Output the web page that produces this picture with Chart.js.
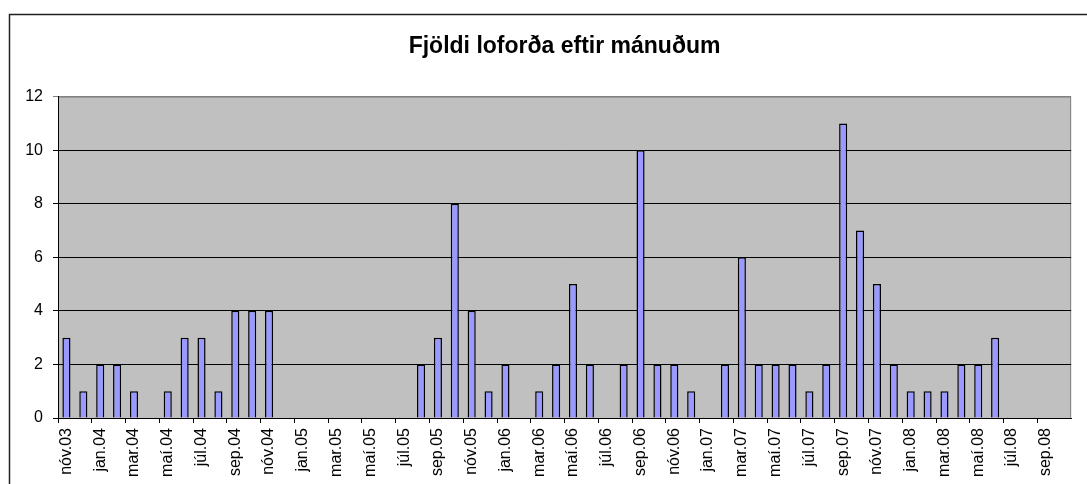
<!DOCTYPE html>
<html lang="is">
<head>
  <meta charset="UTF-8" />
  <title>Fjöldi loforða eftir mánuðum</title>
  <script src="https://cdn.jsdelivr.net/npm/chart.js"></script>
  <style>
    html, body { margin: 0; padding: 0; background: #fff; }
  </style>
</head>
<body>
  <canvas id="chart" width="1087" height="484"></canvas>

  <script>
    const title = "Fjöldi loforða eftir mánuðum";

    const months = [
      "nóv.03", "des.03",
      "jan.04", "feb.04", "mar.04", "apr.04", "maí.04", "jún.04", "júl.04", "ágú.04", "sep.04", "okt.04", "nóv.04", "des.04",
      "jan.05", "feb.05", "mar.05", "apr.05", "maí.05", "jún.05", "júl.05", "ágú.05", "sep.05", "okt.05", "nóv.05", "des.05",
      "jan.06", "feb.06", "mar.06", "apr.06", "maí.06", "jún.06", "júl.06", "ágú.06", "sep.06", "okt.06", "nóv.06", "des.06",
      "jan.07", "feb.07", "mar.07", "apr.07", "maí.07", "jún.07", "júl.07", "ágú.07", "sep.07", "okt.07", "nóv.07", "des.07",
      "jan.08", "feb.08", "mar.08", "apr.08", "maí.08", "jún.08", "júl.08", "ágú.08", "sep.08", "okt.08"
    ];

    const promises = [
      3, 1,
      2, 2, 1, 0, 1, 3, 3, 1, 4, 4, 4, 0,
      0, 0, 0, 0, 0, 0, 0, 2, 3, 8, 4, 1,
      2, 0, 1, 2, 5, 2, 0, 2, 10, 2, 2, 1,
      0, 2, 6, 2, 2, 2, 1, 2, 11, 7, 5, 2,
      1, 1, 1, 2, 2, 3, 0, 0, 0, 0
    ];

    const yTicks = [0, 2, 4, 6, 8, 10, 12];

    const fontFamily = "'Liberation Sans', Arial, sans-serif";

    // grey plot area and the outer frame, like the old spreadsheet chart
    const backdrop = {
      id: "backdrop",
      beforeDraw(chart) {
        const { ctx, chartArea: a } = chart;
        ctx.save();
        ctx.fillStyle = "#c0c0c0";
        ctx.fillRect(a.left, a.top, a.right - a.left, a.bottom - a.top);
        ctx.strokeStyle = "#808080";
        ctx.lineWidth = 1;
        ctx.strokeRect(a.left + 0.5, a.top + 0.5, a.right - a.left - 1, a.bottom - a.top);

        ctx.strokeStyle = "#222";
        ctx.lineWidth = 1.5;
        ctx.beginPath();
        ctx.moveTo(9.5, chart.height);
        ctx.lineTo(9.5, 14.5);
        ctx.lineTo(chart.width, 14.5);
        ctx.stroke();
        ctx.restore();
      }
    };

    new Chart(document.getElementById("chart"), {
      type: "bar",
      data: {
        labels: months,
        datasets: [{
          data: promises,
          backgroundColor: "#9999ff",
          borderColor: "#000",
          borderWidth: 1.5,
          borderSkipped: "bottom",
          barPercentage: 0.48,
          categoryPercentage: 1
        }]
      },
      options: {
        responsive: false,
        animation: false,
        layout: { padding: { left: 0, right: 14, top: 0, bottom: 0 } },
        plugins: {
          legend: { display: false },
          tooltip: { enabled: false },
          title: {
            display: true,
            text: title,
            fullSize: false,
            color: "#000",
            font: { family: fontFamily, size: 23, weight: "bold", lineHeight: 1.2 },
            padding: { top: 33, bottom: 36 }
          }
        },
        scales: {
          x: {
            offset: true,
            grid: {
              offset: true,
              drawOnChartArea: false,
              drawTicks: true,
              tickLength: 5,
              color: ctx => ctx.index % 2 === 0 ? "#000" : "rgba(0,0,0,0)"
            },
            border: { color: "#000", width: 1 },
            ticks: {
              autoSkip: false,
              minRotation: 90,
              maxRotation: 90,
              padding: 5,
              color: "#000",
              font: { family: fontFamily, size: 16 },
              callback: (val, i) => i % 2 === 0 ? months[i] : ""
            },
            afterFit: scale => { scale.height = 66; }
          },
          y: {
            min: 0,
            max: 12,
            grid: {
              color: ctx => ctx.tick && ctx.tick.value === 12 ? "#808080" : "#000",
              tickLength: 5
            },
            border: { color: "#000", width: 1 },
            ticks: {
              stepSize: 2,
              padding: 10,
              color: "#000",
              font: { family: fontFamily, size: 16 },
              callback: val => yTicks.includes(val) ? String(val) : ""
            },
            afterFit: scale => { scale.width = 58; }
          }
        }
      },
      plugins: [backdrop]
    });
  </script>
</body>
</html>
